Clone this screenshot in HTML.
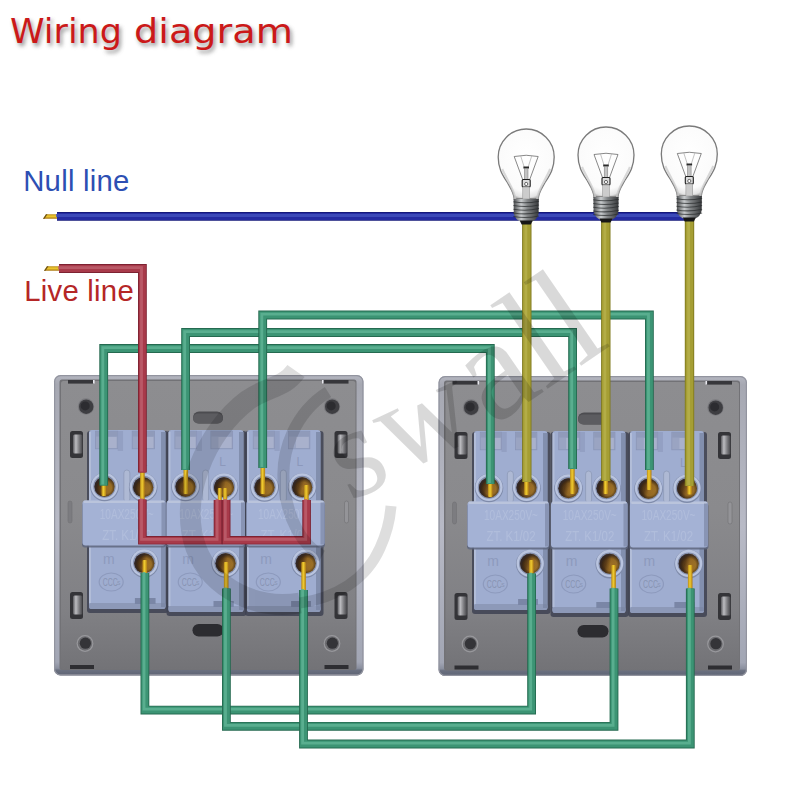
<!DOCTYPE html>
<html lang="en"><head><meta charset="utf-8"><title>Wiring diagram</title>
<style>html,body{margin:0;padding:0;background:#fff;}body{width:800px;height:800px;overflow:hidden;}svg{display:block;}</style>
</head><body>
<svg width="800" height="800" viewBox="0 0 800 800">
<defs>
<filter id="tsh" x="-10%" y="-30%" width="120%" height="180%"><feGaussianBlur stdDeviation="2.1"/></filter>
<filter id="b1" filterUnits="userSpaceOnUse" x="0" y="0" width="800" height="800"><feGaussianBlur stdDeviation="0.6"/></filter>
<linearGradient id="plateG" x1="0" y1="0" x2="0" y2="1"><stop offset="0" stop-color="#8d8d90"/><stop offset="0.45" stop-color="#8a8a8d"/><stop offset="0.8" stop-color="#808084"/><stop offset="1" stop-color="#737377"/></linearGradient>
<linearGradient id="rimG" x1="0" y1="0" x2="0" y2="1"><stop offset="0" stop-color="#b4b6c0"/><stop offset="0.03" stop-color="#a6a8b2"/><stop offset="0.5" stop-color="#b8bac6"/><stop offset="0.955" stop-color="#a2a6b4"/><stop offset="0.976" stop-color="#8a8f9e"/><stop offset="0.982" stop-color="#6a7080"/><stop offset="1" stop-color="#5e6474"/></linearGradient>
<linearGradient id="clipG" x1="0" y1="0" x2="1" y2="0"><stop offset="0" stop-color="#5c5c60"/><stop offset="0.3" stop-color="#bcbcc0"/><stop offset="0.65" stop-color="#7c7c80"/><stop offset="1" stop-color="#444448"/></linearGradient>
<radialGradient id="holeG" cx="0.55" cy="0.55" r="0.5"><stop offset="0" stop-color="#2a1c10" stop-opacity="0"/><stop offset="0.6" stop-color="#2a1c10" stop-opacity="0.1"/><stop offset="0.85" stop-color="#2a1c14" stop-opacity="0.55"/><stop offset="1" stop-color="#2c2428" stop-opacity="0.85"/></radialGradient>
<linearGradient id="holeL" x1="0" y1="0" x2="1" y2="0.25"><stop offset="0" stop-color="#3c2812"/><stop offset="0.4" stop-color="#5e3e18"/><stop offset="0.62" stop-color="#9a6c24"/><stop offset="1" stop-color="#a87a2a"/></linearGradient>
<linearGradient id="baseG" x1="0" y1="0" x2="1" y2="0"><stop offset="0" stop-color="#4e5052"/><stop offset="0.3" stop-color="#c8cbcd"/><stop offset="0.55" stop-color="#828587"/><stop offset="1" stop-color="#36383a"/></linearGradient>
<radialGradient id="glassG" cx="0.5" cy="0.42" r="0.6"><stop offset="0" stop-color="#ffffff"/><stop offset="0.78" stop-color="#fbfbfb"/><stop offset="0.93" stop-color="#e4e4e4"/><stop offset="1" stop-color="#9c9c9c"/></radialGradient>
<linearGradient id="cuV" x1="0" y1="0" x2="1" y2="0"><stop offset="0" stop-color="#b88a18"/><stop offset="0.45" stop-color="#f0cc30"/><stop offset="1" stop-color="#b07c14"/></linearGradient>
<linearGradient id="cuH" x1="0" y1="0" x2="0" y2="1"><stop offset="0" stop-color="#b88a18"/><stop offset="0.45" stop-color="#f0cc30"/><stop offset="1" stop-color="#a87412"/></linearGradient>
</defs>
<rect x="0" y="0" width="800" height="800" fill="#ffffff"/>
<g font-family="'DejaVu Sans', 'Liberation Sans', sans-serif" font-size="34.6">
<g fill="#7a7a7a" opacity="0.8" filter="url(#tsh)">
<text x="12" y="46.2" textLength="112" lengthAdjust="spacingAndGlyphs">Wiring</text>
<text x="136" y="46.2" textLength="159" lengthAdjust="spacingAndGlyphs">diagram</text>
</g>
<g fill="#cb1919">
<text x="10" y="43.2" textLength="112" lengthAdjust="spacingAndGlyphs">Wiring</text>
<text x="134" y="43.2" textLength="159" lengthAdjust="spacingAndGlyphs">diagram</text>
</g>
</g>
<g font-family="'Liberation Sans', sans-serif" font-size="29.3">
<text x="23.2" y="191.2" fill="#2d4fb3" letter-spacing="0.25">Null line</text>
<text x="24.2" y="301" fill="#b52626" letter-spacing="0.25">Live line</text>
</g>
<g>
<rect x="54" y="375" width="309.5" height="300.5" rx="6.5" fill="url(#rimG)"/>
<rect x="54.6" y="375.6" width="308.3" height="299.3" rx="6" fill="none" stroke="#92949f" stroke-width="1.2"/>
<rect x="59.5" y="379.5" width="297.0" height="290.5" rx="2.5" fill="#727276"/>
<rect x="61" y="381" width="294.5" height="288.0" rx="2.5" fill="url(#plateG)"/>
<rect x="68" y="380" width="26" height="3.6" fill="#37373b"/>
<rect x="322.5" y="380" width="26" height="3.6" fill="#37373b"/>
<rect x="70" y="665.0" width="24" height="4" fill="#2e2e32"/>
<rect x="324.5" y="665.0" width="24" height="4" fill="#2e2e32"/>
<rect x="93" y="380" width="1.6" height="3.6" fill="#e8e8ee"/>
<rect x="322.0" y="380" width="1.6" height="3.6" fill="#e8e8ee"/>
<circle cx="86" cy="406.5" r="8.2" fill="#7a7a7e"/>
<circle cx="86.2" cy="406.7" r="7.2" fill="#3e3e42"/>
<circle cx="85.2" cy="405.9" r="4.5" fill="#2c2c30"/>
<circle cx="332.0" cy="406.5" r="8.2" fill="#7a7a7e"/>
<circle cx="332.2" cy="406.7" r="7.2" fill="#3e3e42"/>
<circle cx="331.2" cy="405.9" r="4.5" fill="#2c2c30"/>
<circle cx="85" cy="643.5" r="8.4" fill="#98989c"/>
<circle cx="85" cy="643.5" r="7.2" fill="#6c6c70"/>
<circle cx="85.4" cy="643.2" r="5.6" fill="#343438"/>
<circle cx="332.0" cy="643.5" r="8.4" fill="#98989c"/>
<circle cx="332.0" cy="643.5" r="7.2" fill="#6c6c70"/>
<circle cx="332.4" cy="643.2" r="5.6" fill="#343438"/>
<rect x="70" y="431" width="13" height="27" rx="2.5" fill="#343438"/>
<rect x="73" y="434.5" width="9.5" height="19" rx="1.5" fill="url(#clipG)"/>
<rect x="334.5" y="431" width="13" height="27" rx="2.5" fill="#343438"/>
<rect x="337.5" y="434.5" width="9.5" height="19" rx="1.5" fill="url(#clipG)"/>
<rect x="70" y="592" width="13" height="27" rx="2.5" fill="#343438"/>
<rect x="73" y="595.5" width="9.5" height="19" rx="1.5" fill="url(#clipG)"/>
<rect x="334.5" y="592" width="13" height="27" rx="2.5" fill="#343438"/>
<rect x="337.5" y="595.5" width="9.5" height="19" rx="1.5" fill="url(#clipG)"/>
<rect x="344.5" y="501" width="4" height="22" rx="2" fill="#949498" stroke="#707074" stroke-width="0.6"/>
<rect x="68" y="501" width="4" height="22" rx="2" fill="#7c7c80" stroke="#707074" stroke-width="0.6"/>
<rect x="193" y="411.5" width="30" height="12" rx="6" fill="#4c4c50"/>
<rect x="193" y="413.5" width="30" height="10" rx="5" fill="#5c5c60"/>
<rect x="192.5" y="624" width="31" height="12.5" rx="6.2" fill="#2c2c30"/>
<rect x="87" y="431" width="81.5" height="182" rx="3" fill="#3e4252" opacity="0.85"/>
<rect x="89" y="430" width="76.5" height="179" rx="3" fill="#9fadd0"/>
<rect x="89" y="603" width="76.5" height="6" rx="2" fill="#8d99b8"/>
<rect x="161.0" y="432" width="4.5" height="175" fill="#76819f" opacity="0.7"/>
<rect x="89" y="432" width="2" height="171" fill="#b6c1da" opacity="0.8"/>
<rect x="95.5025" y="431.2" width="22.185" height="17.6" fill="#9aa4c2" stroke="#8b96b7" stroke-width="0.8"/>
<rect x="96.0025" y="431.5" width="21.185" height="5" fill="#8d98b8" opacity="0.8"/>
<rect x="103.26724999999999" y="437" width="13.310999999999998" height="11" fill="#adb6cf" opacity="0.75"/>
<rect x="132.2225" y="431.2" width="22.185" height="17.6" fill="#9aa4c2" stroke="#8b96b7" stroke-width="0.8"/>
<rect x="132.7225" y="431.5" width="21.185" height="5" fill="#8d98b8" opacity="0.8"/>
<rect x="139.98725" y="437" width="13.310999999999998" height="11" fill="#adb6cf" opacity="0.75"/>
<rect x="117.6875" y="431" width="5.355" height="20" fill="#8e9abd" opacity="0.7"/>
<text x="144.07999999999998" y="465.5" font-family="'Liberation Sans', sans-serif" font-size="12" fill="#8c98bb" text-anchor="middle">L</text>
<rect x="123.85" y="470" width="6" height="32" rx="3" fill="#aeb9d4" stroke="#8a96b5" stroke-width="0.7"/>
<rect x="82.0" y="502.5" width="84.0" height="45.0" rx="3" fill="#5e667e" opacity="0.85"/>
<rect x="82.5" y="500.5" width="83.0" height="45.0" rx="3" fill="#a4b2d5"/>
<rect x="83.5" y="500.5" width="81.0" height="2.4" rx="1.2" fill="#bac4dc"/>
<rect x="161.5" y="502.5" width="4" height="42.0" fill="#76819f" opacity="0.6"/>
<g font-family="'Liberation Sans', sans-serif" font-size="14.5" fill="#c0cbe4" text-anchor="middle" opacity="0.45">
<text x="126.75" y="519.0" textLength="54" lengthAdjust="spacingAndGlyphs">10AX250V~</text>
<text x="126.75" y="539.5" textLength="49" lengthAdjust="spacingAndGlyphs">ZT. K1/02</text>
</g>
<text x="108.89" y="564.0" font-family="'Liberation Sans', sans-serif" font-size="14" fill="#8d9abd" text-anchor="middle">m</text>
<ellipse cx="111.185" cy="582.0" rx="12" ry="9" fill="none" stroke="#8d9abd" stroke-width="1.2"/>
<text x="110.185" y="585.5" font-family="'Liberation Sans', sans-serif" font-size="10" fill="#8793b2" text-anchor="middle" textLength="15" lengthAdjust="spacingAndGlyphs">CCC</text>
<text x="118.685" y="584.5" font-family="'Liberation Sans', sans-serif" font-size="5" fill="#8793b2" text-anchor="middle">S</text>
<rect x="134.9" y="598" width="20.655" height="6" fill="#7a86a6"/>
<rect x="166.5" y="431" width="80.0" height="185" rx="3" fill="#3e4252" opacity="0.85"/>
<rect x="168.5" y="430" width="75.0" height="182" rx="3" fill="#9fadd0"/>
<rect x="168.5" y="606" width="75.0" height="6" rx="2" fill="#8d99b8"/>
<rect x="239.0" y="432" width="4.5" height="178" fill="#76819f" opacity="0.7"/>
<rect x="168.5" y="432" width="2" height="174" fill="#b6c1da" opacity="0.8"/>
<rect x="174.875" y="431.2" width="21.75" height="17.6" fill="#9aa4c2" stroke="#8b96b7" stroke-width="0.8"/>
<rect x="175.375" y="431.5" width="20.75" height="5" fill="#8d98b8" opacity="0.8"/>
<rect x="182.4875" y="437" width="13.049999999999999" height="11" fill="#adb6cf" opacity="0.75"/>
<rect x="210.875" y="431.2" width="21.75" height="17.6" fill="#9aa4c2" stroke="#8b96b7" stroke-width="0.8"/>
<rect x="211.375" y="431.5" width="20.75" height="5" fill="#8d98b8" opacity="0.8"/>
<rect x="218.4875" y="437" width="13.049999999999999" height="11" fill="#adb6cf" opacity="0.75"/>
<rect x="196.625" y="431" width="5.250000000000001" height="20" fill="#8e9abd" opacity="0.7"/>
<text x="222.5" y="465.5" font-family="'Liberation Sans', sans-serif" font-size="12" fill="#8c98bb" text-anchor="middle">L</text>
<rect x="202.6" y="470" width="6" height="32" rx="3" fill="#aeb9d4" stroke="#8a96b5" stroke-width="0.7"/>
<rect x="166.0" y="502.5" width="79.5" height="45.0" rx="3" fill="#5e667e" opacity="0.85"/>
<rect x="166.5" y="500.5" width="78.5" height="45.0" rx="3" fill="#a4b2d5"/>
<rect x="167.5" y="500.5" width="76.5" height="2.4" rx="1.2" fill="#bac4dc"/>
<rect x="241" y="502.5" width="4" height="42.0" fill="#76819f" opacity="0.6"/>
<g font-family="'Liberation Sans', sans-serif" font-size="14.5" fill="#c0cbe4" text-anchor="middle" opacity="0.45">
<text x="206.25" y="519.0" textLength="54" lengthAdjust="spacingAndGlyphs">10AX250V~</text>
<text x="206.25" y="539.5" textLength="49" lengthAdjust="spacingAndGlyphs">ZT. K1/02</text>
</g>
<text x="188.0" y="564.0" font-family="'Liberation Sans', sans-serif" font-size="14" fill="#8d9abd" text-anchor="middle">m</text>
<ellipse cx="190.25" cy="582.0" rx="12" ry="9" fill="none" stroke="#8d9abd" stroke-width="1.2"/>
<text x="189.25" y="585.5" font-family="'Liberation Sans', sans-serif" font-size="10" fill="#8793b2" text-anchor="middle" textLength="15" lengthAdjust="spacingAndGlyphs">CCC</text>
<text x="197.75" y="584.5" font-family="'Liberation Sans', sans-serif" font-size="5" fill="#8793b2" text-anchor="middle">S</text>
<rect x="213.5" y="601" width="20.25" height="6" fill="#7a86a6"/>
<rect x="245" y="431" width="78.5" height="185" rx="3" fill="#3e4252" opacity="0.85"/>
<rect x="247" y="430" width="73.5" height="182" rx="3" fill="#9fadd0"/>
<rect x="247" y="606" width="73.5" height="6" rx="2" fill="#8d99b8"/>
<rect x="316.0" y="432" width="4.5" height="178" fill="#76819f" opacity="0.7"/>
<rect x="247" y="432" width="2" height="174" fill="#b6c1da" opacity="0.8"/>
<rect x="253.2475" y="431.2" width="21.314999999999998" height="17.6" fill="#9aa4c2" stroke="#8b96b7" stroke-width="0.8"/>
<rect x="253.7475" y="431.5" width="20.314999999999998" height="5" fill="#8d98b8" opacity="0.8"/>
<rect x="260.70775" y="437" width="12.788999999999998" height="11" fill="#adb6cf" opacity="0.75"/>
<rect x="288.5275" y="431.2" width="21.314999999999998" height="17.6" fill="#9aa4c2" stroke="#8b96b7" stroke-width="0.8"/>
<rect x="289.0275" y="431.5" width="20.314999999999998" height="5" fill="#8d98b8" opacity="0.8"/>
<rect x="295.98774999999995" y="437" width="12.788999999999998" height="11" fill="#adb6cf" opacity="0.75"/>
<rect x="274.5625" y="431" width="5.1450000000000005" height="20" fill="#8e9abd" opacity="0.7"/>
<text x="299.92" y="465.5" font-family="'Liberation Sans', sans-serif" font-size="12" fill="#8c98bb" text-anchor="middle">L</text>
<rect x="280.35" y="470" width="6" height="32" rx="3" fill="#aeb9d4" stroke="#8a96b5" stroke-width="0.7"/>
<rect x="246.0" y="502.5" width="79.0" height="45.0" rx="3" fill="#5e667e" opacity="0.85"/>
<rect x="246.5" y="500.5" width="78.0" height="45.0" rx="3" fill="#a4b2d5"/>
<rect x="247.5" y="500.5" width="76.0" height="2.4" rx="1.2" fill="#bac4dc"/>
<rect x="320.5" y="502.5" width="4" height="42.0" fill="#76819f" opacity="0.6"/>
<g font-family="'Liberation Sans', sans-serif" font-size="14.5" fill="#c0cbe4" text-anchor="middle" opacity="0.45">
<text x="285.0" y="519.0" textLength="54" lengthAdjust="spacingAndGlyphs">10AX250V~</text>
<text x="285.0" y="539.5" textLength="49" lengthAdjust="spacingAndGlyphs">ZT. K1/02</text>
</g>
<text x="266.11" y="564.0" font-family="'Liberation Sans', sans-serif" font-size="14" fill="#8d9abd" text-anchor="middle">m</text>
<ellipse cx="268.315" cy="582.0" rx="12" ry="9" fill="none" stroke="#8d9abd" stroke-width="1.2"/>
<text x="267.315" y="585.5" font-family="'Liberation Sans', sans-serif" font-size="10" fill="#8793b2" text-anchor="middle" textLength="15" lengthAdjust="spacingAndGlyphs">CCC</text>
<text x="275.815" y="584.5" font-family="'Liberation Sans', sans-serif" font-size="5" fill="#8793b2" text-anchor="middle">S</text>
<rect x="291.1" y="601" width="19.845000000000002" height="6" fill="#7a86a6"/>
<circle cx="104.5" cy="487.0" r="14.3" fill="#7f8baa"/>
<circle cx="104.5" cy="486.3" r="13.6" fill="#b9c4df"/>
<circle cx="104.5" cy="486.5" r="11.2" fill="#828dab"/>
<circle cx="104.5" cy="486.7" r="10" fill="url(#holeL)"/>
<circle cx="104.5" cy="486.7" r="10" fill="url(#holeG)"/>
<circle cx="143.2" cy="487.5" r="14.3" fill="#7f8baa"/>
<circle cx="143.2" cy="486.8" r="13.6" fill="#b9c4df"/>
<circle cx="143.2" cy="487" r="11.2" fill="#828dab"/>
<circle cx="143.2" cy="487.2" r="10" fill="url(#holeL)"/>
<circle cx="143.2" cy="487.2" r="10" fill="url(#holeG)"/>
<circle cx="185.5" cy="487.0" r="14.3" fill="#7f8baa"/>
<circle cx="185.5" cy="486.3" r="13.6" fill="#b9c4df"/>
<circle cx="185.5" cy="486.5" r="11.2" fill="#828dab"/>
<circle cx="185.5" cy="486.7" r="10" fill="url(#holeL)"/>
<circle cx="185.5" cy="486.7" r="10" fill="url(#holeG)"/>
<circle cx="224" cy="487.5" r="14.3" fill="#7f8baa"/>
<circle cx="224" cy="486.8" r="13.6" fill="#b9c4df"/>
<circle cx="224" cy="487" r="11.2" fill="#828dab"/>
<circle cx="224" cy="487.2" r="10" fill="url(#holeL)"/>
<circle cx="224" cy="487.2" r="10" fill="url(#holeG)"/>
<circle cx="264.5" cy="487.5" r="14.3" fill="#7f8baa"/>
<circle cx="264.5" cy="486.8" r="13.6" fill="#b9c4df"/>
<circle cx="264.5" cy="487" r="11.2" fill="#828dab"/>
<circle cx="264.5" cy="487.2" r="10" fill="url(#holeL)"/>
<circle cx="264.5" cy="487.2" r="10" fill="url(#holeG)"/>
<circle cx="302.2" cy="487.5" r="14.3" fill="#7f8baa"/>
<circle cx="302.2" cy="486.8" r="13.6" fill="#b9c4df"/>
<circle cx="302.2" cy="487" r="11.2" fill="#828dab"/>
<circle cx="302.2" cy="487.2" r="10" fill="url(#holeL)"/>
<circle cx="302.2" cy="487.2" r="10" fill="url(#holeG)"/>
<circle cx="144.3" cy="563.5" r="14.3" fill="#7f8baa"/>
<circle cx="144.3" cy="562.8" r="13.6" fill="#b9c4df"/>
<circle cx="144.3" cy="563" r="11.2" fill="#828dab"/>
<circle cx="144.3" cy="563.2" r="10" fill="url(#holeL)"/>
<circle cx="144.3" cy="563.2" r="10" fill="url(#holeG)"/>
<circle cx="225.6" cy="563.5" r="14.3" fill="#7f8baa"/>
<circle cx="225.6" cy="562.8" r="13.6" fill="#b9c4df"/>
<circle cx="225.6" cy="563" r="11.2" fill="#828dab"/>
<circle cx="225.6" cy="563.2" r="10" fill="url(#holeL)"/>
<circle cx="225.6" cy="563.2" r="10" fill="url(#holeG)"/>
<circle cx="305.7" cy="563.5" r="14.3" fill="#7f8baa"/>
<circle cx="305.7" cy="562.8" r="13.6" fill="#b9c4df"/>
<circle cx="305.7" cy="563" r="11.2" fill="#828dab"/>
<circle cx="305.7" cy="563.2" r="10" fill="url(#holeL)"/>
<circle cx="305.7" cy="563.2" r="10" fill="url(#holeG)"/>
</g>
<g>
<rect x="438.5" y="376" width="308.5" height="300" rx="6.5" fill="url(#rimG)"/>
<rect x="439.1" y="376.6" width="307.3" height="298.8" rx="6" fill="none" stroke="#92949f" stroke-width="1.2"/>
<rect x="444.0" y="380.5" width="296.0" height="290" rx="2.5" fill="#727276"/>
<rect x="445.5" y="382" width="293.5" height="287.5" rx="2.5" fill="url(#plateG)"/>
<rect x="452.5" y="381" width="26" height="3.6" fill="#37373b"/>
<rect x="706" y="381" width="26" height="3.6" fill="#37373b"/>
<rect x="454.5" y="665.5" width="24" height="4" fill="#2e2e32"/>
<rect x="708" y="665.5" width="24" height="4" fill="#2e2e32"/>
<rect x="477.5" y="381" width="1.6" height="3.6" fill="#e8e8ee"/>
<rect x="705.5" y="381" width="1.6" height="3.6" fill="#e8e8ee"/>
<circle cx="471.0" cy="407.5" r="8.2" fill="#7a7a7e"/>
<circle cx="471.2" cy="407.7" r="7.2" fill="#3e3e42"/>
<circle cx="470.2" cy="406.9" r="4.5" fill="#2c2c30"/>
<circle cx="715.5" cy="407.5" r="8.2" fill="#7a7a7e"/>
<circle cx="715.7" cy="407.7" r="7.2" fill="#3e3e42"/>
<circle cx="714.7" cy="406.9" r="4.5" fill="#2c2c30"/>
<circle cx="470.0" cy="644" r="8.4" fill="#98989c"/>
<circle cx="470.0" cy="644" r="7.2" fill="#6c6c70"/>
<circle cx="470.4" cy="643.7" r="5.6" fill="#343438"/>
<circle cx="715.5" cy="644" r="8.4" fill="#98989c"/>
<circle cx="715.5" cy="644" r="7.2" fill="#6c6c70"/>
<circle cx="715.9" cy="643.7" r="5.6" fill="#343438"/>
<rect x="454.5" y="432" width="13" height="27" rx="2.5" fill="#343438"/>
<rect x="457.5" y="435.5" width="9.5" height="19" rx="1.5" fill="url(#clipG)"/>
<rect x="718" y="432" width="13" height="27" rx="2.5" fill="#343438"/>
<rect x="721" y="435.5" width="9.5" height="19" rx="1.5" fill="url(#clipG)"/>
<rect x="454.5" y="593" width="13" height="27" rx="2.5" fill="#343438"/>
<rect x="457.5" y="596.5" width="9.5" height="19" rx="1.5" fill="url(#clipG)"/>
<rect x="718" y="593" width="13" height="27" rx="2.5" fill="#343438"/>
<rect x="721" y="596.5" width="9.5" height="19" rx="1.5" fill="url(#clipG)"/>
<rect x="728" y="502" width="4" height="22" rx="2" fill="#949498" stroke="#707074" stroke-width="0.6"/>
<rect x="452.5" y="502" width="4" height="22" rx="2" fill="#7c7c80" stroke="#707074" stroke-width="0.6"/>
<rect x="578" y="412.5" width="30" height="12" rx="6" fill="#4c4c50"/>
<rect x="578" y="414.5" width="30" height="10" rx="5" fill="#5c5c60"/>
<rect x="577.5" y="625" width="31" height="12.5" rx="6.2" fill="#2c2c30"/>
<rect x="472" y="432" width="78.5" height="182" rx="3" fill="#3e4252" opacity="0.85"/>
<rect x="474" y="431" width="73.5" height="179" rx="3" fill="#9fadd0"/>
<rect x="474" y="604" width="73.5" height="6" rx="2" fill="#8d99b8"/>
<rect x="543.0" y="433" width="4.5" height="175" fill="#76819f" opacity="0.7"/>
<rect x="474" y="433" width="2" height="171" fill="#b6c1da" opacity="0.8"/>
<rect x="480.2475" y="432.2" width="21.314999999999998" height="17.6" fill="#9aa4c2" stroke="#8b96b7" stroke-width="0.8"/>
<rect x="480.7475" y="432.5" width="20.314999999999998" height="5" fill="#8d98b8" opacity="0.8"/>
<rect x="487.70775" y="438" width="12.788999999999998" height="11" fill="#adb6cf" opacity="0.75"/>
<rect x="515.5275" y="432.2" width="21.314999999999998" height="17.6" fill="#9aa4c2" stroke="#8b96b7" stroke-width="0.8"/>
<rect x="516.0275" y="432.5" width="20.314999999999998" height="5" fill="#8d98b8" opacity="0.8"/>
<rect x="522.98775" y="438" width="12.788999999999998" height="11" fill="#adb6cf" opacity="0.75"/>
<rect x="501.5625" y="432" width="5.1450000000000005" height="20" fill="#8e9abd" opacity="0.7"/>
<text x="526.92" y="466.5" font-family="'Liberation Sans', sans-serif" font-size="12" fill="#8c98bb" text-anchor="middle">L</text>
<rect x="507.35" y="471" width="6" height="32" rx="3" fill="#aeb9d4" stroke="#8a96b5" stroke-width="0.7"/>
<rect x="467.0" y="503.5" width="82.5" height="46.0" rx="3" fill="#5e667e" opacity="0.85"/>
<rect x="467.5" y="501.5" width="81.5" height="46.0" rx="3" fill="#a4b2d5"/>
<rect x="468.5" y="501.5" width="79.5" height="2.4" rx="1.2" fill="#bac4dc"/>
<rect x="545" y="503.5" width="4" height="43.0" fill="#76819f" opacity="0.6"/>
<g font-family="'Liberation Sans', sans-serif" font-size="14.5" fill="#c0cbe4" text-anchor="middle" opacity="0.45">
<text x="511.0" y="520.0" textLength="54" lengthAdjust="spacingAndGlyphs">10AX250V~</text>
<text x="511.0" y="540.5" textLength="49" lengthAdjust="spacingAndGlyphs">ZT. K1/02</text>
</g>
<text x="493.11" y="566.0" font-family="'Liberation Sans', sans-serif" font-size="14" fill="#8d9abd" text-anchor="middle">m</text>
<ellipse cx="495.315" cy="584.0" rx="12" ry="9" fill="none" stroke="#8d9abd" stroke-width="1.2"/>
<text x="494.315" y="587.5" font-family="'Liberation Sans', sans-serif" font-size="10" fill="#8793b2" text-anchor="middle" textLength="15" lengthAdjust="spacingAndGlyphs">CCC</text>
<text x="502.815" y="586.5" font-family="'Liberation Sans', sans-serif" font-size="5" fill="#8793b2" text-anchor="middle">S</text>
<rect x="518.1" y="599" width="19.845000000000002" height="6" fill="#7a86a6"/>
<rect x="550.5" y="432" width="78.0" height="185" rx="3" fill="#3e4252" opacity="0.85"/>
<rect x="552.5" y="431" width="73.0" height="182" rx="3" fill="#9fadd0"/>
<rect x="552.5" y="607" width="73.0" height="6" rx="2" fill="#8d99b8"/>
<rect x="621.0" y="433" width="4.5" height="178" fill="#76819f" opacity="0.7"/>
<rect x="552.5" y="433" width="2" height="174" fill="#b6c1da" opacity="0.8"/>
<rect x="558.705" y="432.2" width="21.169999999999998" height="17.6" fill="#9aa4c2" stroke="#8b96b7" stroke-width="0.8"/>
<rect x="559.205" y="432.5" width="20.169999999999998" height="5" fill="#8d98b8" opacity="0.8"/>
<rect x="566.1145" y="438" width="12.701999999999998" height="11" fill="#adb6cf" opacity="0.75"/>
<rect x="593.745" y="432.2" width="21.169999999999998" height="17.6" fill="#9aa4c2" stroke="#8b96b7" stroke-width="0.8"/>
<rect x="594.245" y="432.5" width="20.169999999999998" height="5" fill="#8d98b8" opacity="0.8"/>
<rect x="601.1545" y="438" width="12.701999999999998" height="11" fill="#adb6cf" opacity="0.75"/>
<rect x="579.875" y="432" width="5.11" height="20" fill="#8e9abd" opacity="0.7"/>
<text x="605.06" y="466.5" font-family="'Liberation Sans', sans-serif" font-size="12" fill="#8c98bb" text-anchor="middle">L</text>
<rect x="585.6" y="471" width="6" height="32" rx="3" fill="#aeb9d4" stroke="#8a96b5" stroke-width="0.7"/>
<rect x="550.5" y="503.5" width="77.5" height="46.0" rx="3" fill="#5e667e" opacity="0.85"/>
<rect x="551" y="501.5" width="76.5" height="46.0" rx="3" fill="#a4b2d5"/>
<rect x="552" y="501.5" width="74.5" height="2.4" rx="1.2" fill="#bac4dc"/>
<rect x="623.5" y="503.5" width="4" height="43.0" fill="#76819f" opacity="0.6"/>
<g font-family="'Liberation Sans', sans-serif" font-size="14.5" fill="#c0cbe4" text-anchor="middle" opacity="0.45">
<text x="589.75" y="520.0" textLength="54" lengthAdjust="spacingAndGlyphs">10AX250V~</text>
<text x="589.75" y="540.5" textLength="49" lengthAdjust="spacingAndGlyphs">ZT. K1/02</text>
</g>
<text x="571.48" y="566.0" font-family="'Liberation Sans', sans-serif" font-size="14" fill="#8d9abd" text-anchor="middle">m</text>
<ellipse cx="573.67" cy="584.0" rx="12" ry="9" fill="none" stroke="#8d9abd" stroke-width="1.2"/>
<text x="572.67" y="587.5" font-family="'Liberation Sans', sans-serif" font-size="10" fill="#8793b2" text-anchor="middle" textLength="15" lengthAdjust="spacingAndGlyphs">CCC</text>
<text x="581.17" y="586.5" font-family="'Liberation Sans', sans-serif" font-size="5" fill="#8793b2" text-anchor="middle">S</text>
<rect x="596.3" y="602" width="19.71" height="6" fill="#7a86a6"/>
<rect x="628" y="432" width="79" height="185" rx="3" fill="#3e4252" opacity="0.85"/>
<rect x="630" y="431" width="74" height="182" rx="3" fill="#9fadd0"/>
<rect x="630" y="607" width="74" height="6" rx="2" fill="#8d99b8"/>
<rect x="699.5" y="433" width="4.5" height="178" fill="#76819f" opacity="0.7"/>
<rect x="630" y="433" width="2" height="174" fill="#b6c1da" opacity="0.8"/>
<rect x="636.29" y="432.2" width="21.459999999999997" height="17.6" fill="#9aa4c2" stroke="#8b96b7" stroke-width="0.8"/>
<rect x="636.79" y="432.5" width="20.459999999999997" height="5" fill="#8d98b8" opacity="0.8"/>
<rect x="643.8009999999999" y="438" width="12.875999999999998" height="11" fill="#adb6cf" opacity="0.75"/>
<rect x="671.81" y="432.2" width="21.459999999999997" height="17.6" fill="#9aa4c2" stroke="#8b96b7" stroke-width="0.8"/>
<rect x="672.31" y="432.5" width="20.459999999999997" height="5" fill="#8d98b8" opacity="0.8"/>
<rect x="679.3209999999999" y="438" width="12.875999999999998" height="11" fill="#adb6cf" opacity="0.75"/>
<rect x="657.75" y="432" width="5.180000000000001" height="20" fill="#8e9abd" opacity="0.7"/>
<text x="683.28" y="466.5" font-family="'Liberation Sans', sans-serif" font-size="12" fill="#8c98bb" text-anchor="middle">L</text>
<rect x="663.6" y="471" width="6" height="32" rx="3" fill="#aeb9d4" stroke="#8a96b5" stroke-width="0.7"/>
<rect x="629.5" y="503.5" width="79" height="46.0" rx="3" fill="#5e667e" opacity="0.85"/>
<rect x="630" y="501.5" width="78" height="46.0" rx="3" fill="#a4b2d5"/>
<rect x="631" y="501.5" width="76" height="2.4" rx="1.2" fill="#bac4dc"/>
<rect x="704" y="503.5" width="4" height="43.0" fill="#76819f" opacity="0.6"/>
<g font-family="'Liberation Sans', sans-serif" font-size="14.5" fill="#c0cbe4" text-anchor="middle" opacity="0.45">
<text x="668.5" y="520.0" textLength="54" lengthAdjust="spacingAndGlyphs">10AX250V~</text>
<text x="668.5" y="540.5" textLength="49" lengthAdjust="spacingAndGlyphs">ZT. K1/02</text>
</g>
<text x="649.24" y="566.0" font-family="'Liberation Sans', sans-serif" font-size="14" fill="#8d9abd" text-anchor="middle">m</text>
<ellipse cx="651.46" cy="584.0" rx="12" ry="9" fill="none" stroke="#8d9abd" stroke-width="1.2"/>
<text x="650.46" y="587.5" font-family="'Liberation Sans', sans-serif" font-size="10" fill="#8793b2" text-anchor="middle" textLength="15" lengthAdjust="spacingAndGlyphs">CCC</text>
<text x="658.96" y="586.5" font-family="'Liberation Sans', sans-serif" font-size="5" fill="#8793b2" text-anchor="middle">S</text>
<rect x="674.4" y="602" width="19.98" height="6" fill="#7a86a6"/>
<circle cx="489" cy="488.0" r="14.3" fill="#7f8baa"/>
<circle cx="489" cy="487.3" r="13.6" fill="#b9c4df"/>
<circle cx="489" cy="487.5" r="11.2" fill="#828dab"/>
<circle cx="489" cy="487.7" r="10" fill="url(#holeL)"/>
<circle cx="489" cy="487.7" r="10" fill="url(#holeG)"/>
<circle cx="526.5" cy="488.0" r="14.3" fill="#7f8baa"/>
<circle cx="526.5" cy="487.3" r="13.6" fill="#b9c4df"/>
<circle cx="526.5" cy="487.5" r="11.2" fill="#828dab"/>
<circle cx="526.5" cy="487.7" r="10" fill="url(#holeL)"/>
<circle cx="526.5" cy="487.7" r="10" fill="url(#holeG)"/>
<circle cx="568.5" cy="488.5" r="14.3" fill="#7f8baa"/>
<circle cx="568.5" cy="487.8" r="13.6" fill="#b9c4df"/>
<circle cx="568.5" cy="488" r="11.2" fill="#828dab"/>
<circle cx="568.5" cy="488.2" r="10" fill="url(#holeL)"/>
<circle cx="568.5" cy="488.2" r="10" fill="url(#holeG)"/>
<circle cx="606.5" cy="488.5" r="14.3" fill="#7f8baa"/>
<circle cx="606.5" cy="487.8" r="13.6" fill="#b9c4df"/>
<circle cx="606.5" cy="488" r="11.2" fill="#828dab"/>
<circle cx="606.5" cy="488.2" r="10" fill="url(#holeL)"/>
<circle cx="606.5" cy="488.2" r="10" fill="url(#holeG)"/>
<circle cx="648.5" cy="489.0" r="14.3" fill="#7f8baa"/>
<circle cx="648.5" cy="488.3" r="13.6" fill="#b9c4df"/>
<circle cx="648.5" cy="488.5" r="11.2" fill="#828dab"/>
<circle cx="648.5" cy="488.7" r="10" fill="url(#holeL)"/>
<circle cx="648.5" cy="488.7" r="10" fill="url(#holeG)"/>
<circle cx="687" cy="488.7" r="14.3" fill="#7f8baa"/>
<circle cx="687" cy="488.0" r="13.6" fill="#b9c4df"/>
<circle cx="687" cy="488.2" r="11.2" fill="#828dab"/>
<circle cx="687" cy="488.4" r="10" fill="url(#holeL)"/>
<circle cx="687" cy="488.4" r="10" fill="url(#holeG)"/>
<circle cx="530.2" cy="564.1" r="14.3" fill="#7f8baa"/>
<circle cx="530.2" cy="563.4" r="13.6" fill="#b9c4df"/>
<circle cx="530.2" cy="563.6" r="11.2" fill="#828dab"/>
<circle cx="530.2" cy="563.8000000000001" r="10" fill="url(#holeL)"/>
<circle cx="530.2" cy="563.8000000000001" r="10" fill="url(#holeG)"/>
<circle cx="609.7" cy="564.1" r="14.3" fill="#7f8baa"/>
<circle cx="609.7" cy="563.4" r="13.6" fill="#b9c4df"/>
<circle cx="609.7" cy="563.6" r="11.2" fill="#828dab"/>
<circle cx="609.7" cy="563.8000000000001" r="10" fill="url(#holeL)"/>
<circle cx="609.7" cy="563.8000000000001" r="10" fill="url(#holeG)"/>
<circle cx="688.7" cy="564.1" r="14.3" fill="#7f8baa"/>
<circle cx="688.7" cy="563.4" r="13.6" fill="#b9c4df"/>
<circle cx="688.7" cy="563.6" r="11.2" fill="#828dab"/>
<circle cx="688.7" cy="563.8000000000001" r="10" fill="url(#holeL)"/>
<circle cx="688.7" cy="563.8000000000001" r="10" fill="url(#holeG)"/>
</g>
<rect x="101.5" y="484" width="4.6" height="12" rx="1" fill="url(#cuV)"/>
<rect x="140.1" y="471" width="4.6" height="29" rx="1" fill="url(#cuV)"/>
<rect x="183.5" y="468" width="4.6" height="26" rx="1" fill="url(#cuV)"/>
<rect x="217.8" y="488" width="4" height="13" rx="1" fill="url(#cuV)"/>
<rect x="223.2" y="488" width="4" height="13" rx="1" fill="url(#cuV)"/>
<rect x="260.5" y="467" width="4.6" height="27" rx="1" fill="url(#cuV)"/>
<rect x="304.09999999999997" y="485" width="4.6" height="16" rx="1" fill="url(#cuV)"/>
<rect x="142.5" y="560" width="4.6" height="14" rx="1" fill="url(#cuV)"/>
<rect x="223.89999999999998" y="562" width="4.6" height="28" rx="1" fill="url(#cuV)"/>
<rect x="301.3" y="562" width="4.6" height="29" rx="1" fill="url(#cuV)"/>
<rect x="488.0" y="484" width="4.6" height="13" rx="1" fill="url(#cuV)"/>
<rect x="524.2" y="480" width="4.6" height="15" rx="1" fill="url(#cuV)"/>
<rect x="570.1" y="468" width="4.6" height="26" rx="1" fill="url(#cuV)"/>
<rect x="603.5" y="480" width="4.6" height="14" rx="1" fill="url(#cuV)"/>
<rect x="646.9000000000001" y="469" width="4.6" height="21" rx="1" fill="url(#cuV)"/>
<rect x="687.3000000000001" y="485" width="4.6" height="9.5" rx="1" fill="url(#cuV)"/>
<rect x="529.1" y="560" width="4.6" height="15" rx="1" fill="url(#cuV)"/>
<rect x="611.3000000000001" y="565" width="4.6" height="25" rx="1" fill="url(#cuV)"/>
<rect x="687.9000000000001" y="565" width="4.6" height="25" rx="1" fill="url(#cuV)"/>
<path d="M46,214.2 L58,214.2 L58,218.8 L43,218.8 Z" fill="url(#cuH)"/>
<path d="M46,214.2 L47.5,214.2 L44.5,218.8 L43,218.8 Z" fill="#6a5018"/>
<path d="M47,266.2 L60,266.2 L60,270.8 L44,270.8 Z" fill="url(#cuH)"/>
<path d="M47,266.2 L48.5,266.2 L45.5,270.8 L44,270.8 Z" fill="#6a5018"/>
<path d="M57,216.4 L686,216.4" fill="none" stroke="#14187a" stroke-width="8.8" stroke-linejoin="miter" stroke-linecap="butt"/>
<path d="M57,216.4 L686,216.4" fill="none" stroke="#242ba2" stroke-width="7.000000000000001" stroke-linejoin="miter" stroke-linecap="butt"/>
<path d="M57,216.4 L686,216.4" fill="none" stroke="#4050bc" stroke-width="2.8" stroke-linejoin="miter" stroke-linecap="butt" opacity="0.85" transform="translate(-0.9,-0.9)" filter="url(#b1)"/>
<path d="M103.7,485.5 L103.7,348.5 L490.3,348.5 L490.3,484" fill="none" stroke="#256a50" stroke-width="8.8" stroke-linejoin="miter" stroke-linecap="butt"/>
<path d="M103.7,485.5 L103.7,348.5 L490.3,348.5 L490.3,484" fill="none" stroke="#3c9474" stroke-width="7.000000000000001" stroke-linejoin="miter" stroke-linecap="butt"/>
<path d="M103.7,485.5 L103.7,348.5 L490.3,348.5 L490.3,484" fill="none" stroke="#5fb394" stroke-width="2.8" stroke-linejoin="miter" stroke-linecap="butt" opacity="0.85" transform="translate(-0.9,-0.9)" filter="url(#b1)"/>
<path d="M185.6,470 L185.6,332.5 L572.6,332.5 L572.6,469" fill="none" stroke="#256a50" stroke-width="8.8" stroke-linejoin="miter" stroke-linecap="butt"/>
<path d="M185.6,470 L185.6,332.5 L572.6,332.5 L572.6,469" fill="none" stroke="#3c9474" stroke-width="7.000000000000001" stroke-linejoin="miter" stroke-linecap="butt"/>
<path d="M185.6,470 L185.6,332.5 L572.6,332.5 L572.6,469" fill="none" stroke="#5fb394" stroke-width="2.8" stroke-linejoin="miter" stroke-linecap="butt" opacity="0.85" transform="translate(-0.9,-0.9)" filter="url(#b1)"/>
<path d="M262.7,468 L262.7,315 L649.4,315 L649.4,470" fill="none" stroke="#256a50" stroke-width="8.8" stroke-linejoin="miter" stroke-linecap="butt"/>
<path d="M262.7,468 L262.7,315 L649.4,315 L649.4,470" fill="none" stroke="#3c9474" stroke-width="7.000000000000001" stroke-linejoin="miter" stroke-linecap="butt"/>
<path d="M262.7,468 L262.7,315 L649.4,315 L649.4,470" fill="none" stroke="#5fb394" stroke-width="2.8" stroke-linejoin="miter" stroke-linecap="butt" opacity="0.85" transform="translate(-0.9,-0.9)" filter="url(#b1)"/>
<path d="M526.8,222 L526.8,482" fill="none" stroke="#807a1e" stroke-width="9.4" stroke-linejoin="miter" stroke-linecap="butt"/>
<path d="M526.8,222 L526.8,482" fill="none" stroke="#a59e34" stroke-width="7.6000000000000005" stroke-linejoin="miter" stroke-linecap="butt"/>
<path d="M526.8,222 L526.8,482" fill="none" stroke="#b6b04c" stroke-width="2.8" stroke-linejoin="miter" stroke-linecap="butt" opacity="0.85" transform="translate(-0.9,-0.9)" filter="url(#b1)"/>
<path d="M605.8,221 L605.8,481" fill="none" stroke="#807a1e" stroke-width="9.4" stroke-linejoin="miter" stroke-linecap="butt"/>
<path d="M605.8,221 L605.8,481" fill="none" stroke="#a59e34" stroke-width="7.6000000000000005" stroke-linejoin="miter" stroke-linecap="butt"/>
<path d="M605.8,221 L605.8,481" fill="none" stroke="#b6b04c" stroke-width="2.8" stroke-linejoin="miter" stroke-linecap="butt" opacity="0.85" transform="translate(-0.9,-0.9)" filter="url(#b1)"/>
<path d="M689.5,220 L689.5,486" fill="none" stroke="#807a1e" stroke-width="9.4" stroke-linejoin="miter" stroke-linecap="butt"/>
<path d="M689.5,220 L689.5,486" fill="none" stroke="#a59e34" stroke-width="7.6000000000000005" stroke-linejoin="miter" stroke-linecap="butt"/>
<path d="M689.5,220 L689.5,486" fill="none" stroke="#b6b04c" stroke-width="2.8" stroke-linejoin="miter" stroke-linecap="butt" opacity="0.85" transform="translate(-0.9,-0.9)" filter="url(#b1)"/>
<path d="M59,268.5 L142.4,268.5 L142.4,472.5" fill="none" stroke="#7d2232" stroke-width="8.8" stroke-linejoin="miter" stroke-linecap="butt"/>
<path d="M59,268.5 L142.4,268.5 L142.4,472.5" fill="none" stroke="#a83a4a" stroke-width="7.000000000000001" stroke-linejoin="miter" stroke-linecap="butt"/>
<path d="M59,268.5 L142.4,268.5 L142.4,472.5" fill="none" stroke="#bd5f6d" stroke-width="2.8" stroke-linejoin="miter" stroke-linecap="butt" opacity="0.85" transform="translate(-0.9,-0.9)" filter="url(#b1)"/>
<path d="M142.4,499.5 L142.4,540.3 L218,540.3 L218,500" fill="none" stroke="#7d2232" stroke-width="8.6" stroke-linejoin="miter" stroke-linecap="butt"/>
<path d="M142.4,499.5 L142.4,540.3 L218,540.3 L218,500" fill="none" stroke="#a83a4a" stroke-width="6.8" stroke-linejoin="miter" stroke-linecap="butt"/>
<path d="M142.4,499.5 L142.4,540.3 L218,540.3 L218,500" fill="none" stroke="#bd5f6d" stroke-width="2.8" stroke-linejoin="miter" stroke-linecap="butt" opacity="0.85" transform="translate(-0.9,-0.9)" filter="url(#b1)"/>
<path d="M226.2,500 L226.2,540.3 L306.6,540.3 L306.6,500" fill="none" stroke="#7d2232" stroke-width="8.6" stroke-linejoin="miter" stroke-linecap="butt"/>
<path d="M226.2,500 L226.2,540.3 L306.6,540.3 L306.6,500" fill="none" stroke="#a83a4a" stroke-width="6.8" stroke-linejoin="miter" stroke-linecap="butt"/>
<path d="M226.2,500 L226.2,540.3 L306.6,540.3 L306.6,500" fill="none" stroke="#bd5f6d" stroke-width="2.8" stroke-linejoin="miter" stroke-linecap="butt" opacity="0.85" transform="translate(-0.9,-0.9)" filter="url(#b1)"/>
<path d="M144.9,573 L144.9,710.1 L531.6,710.1 L531.6,573.6" fill="none" stroke="#256a50" stroke-width="8.8" stroke-linejoin="miter" stroke-linecap="butt"/>
<path d="M144.9,573 L144.9,710.1 L531.6,710.1 L531.6,573.6" fill="none" stroke="#3c9474" stroke-width="7.000000000000001" stroke-linejoin="miter" stroke-linecap="butt"/>
<path d="M144.9,573 L144.9,710.1 L531.6,710.1 L531.6,573.6" fill="none" stroke="#5fb394" stroke-width="2.8" stroke-linejoin="miter" stroke-linecap="butt" opacity="0.85" transform="translate(-0.9,-0.9)" filter="url(#b1)"/>
<path d="M226.4,588.5 L226.4,726.3 L614,726.3 L614,588.6" fill="none" stroke="#256a50" stroke-width="8.8" stroke-linejoin="miter" stroke-linecap="butt"/>
<path d="M226.4,588.5 L226.4,726.3 L614,726.3 L614,588.6" fill="none" stroke="#3c9474" stroke-width="7.000000000000001" stroke-linejoin="miter" stroke-linecap="butt"/>
<path d="M226.4,588.5 L226.4,726.3 L614,726.3 L614,588.6" fill="none" stroke="#5fb394" stroke-width="2.8" stroke-linejoin="miter" stroke-linecap="butt" opacity="0.85" transform="translate(-0.9,-0.9)" filter="url(#b1)"/>
<path d="M303.5,590 L303.5,744 L690.3,744 L690.3,588.6" fill="none" stroke="#256a50" stroke-width="8.8" stroke-linejoin="miter" stroke-linecap="butt"/>
<path d="M303.5,590 L303.5,744 L690.3,744 L690.3,588.6" fill="none" stroke="#3c9474" stroke-width="7.000000000000001" stroke-linejoin="miter" stroke-linecap="butt"/>
<path d="M303.5,590 L303.5,744 L690.3,744 L690.3,588.6" fill="none" stroke="#5fb394" stroke-width="2.8" stroke-linejoin="miter" stroke-linecap="butt" opacity="0.85" transform="translate(-0.9,-0.9)" filter="url(#b1)"/>
<path d="M514.2,199 C514.2,194 511.70000000000005,190 508.20000000000005,184 C503.70000000000005,176.5 498.20000000000005,170 498.20000000000005,157 A28,28 0 1 1 554.2,157 C554.2,170 548.7,176.5 544.2,184 C540.7,190 538.2,194 538.2,199 Z" fill="url(#glassG)" stroke="#7a7a7a" stroke-width="1.3"/>
<path d="M515.2,199 C515.2,191 506.20000000000005,179 502.20000000000005,169" fill="none" stroke="#c9c9c9" stroke-width="2.2" opacity="0.7"/>
<path d="M537.2,199 C537.2,191 546.2,179 550.2,169" fill="none" stroke="#c9c9c9" stroke-width="2.2" opacity="0.7"/>
<g fill="none" stroke="#6a6a6a" stroke-width="0.8">
<path d="M514.2,156.5 Q526.2,154 538.2,156.5"/>
<path d="M514.2,156.5 L523.2,181"/><path d="M538.2,156.5 L529.2,181"/>
<path d="M520.7,156 L524.2,167" stroke="#b4b4b4"/><path d="M531.7,156 L528.2,167" stroke="#b4b4b4"/>
</g>
<rect x="523.4000000000001" y="166.5" width="5.6" height="2" fill="#2a2a2a"/>
<rect x="524.4000000000001" y="168.5" width="3.6" height="11" fill="#c2c2c2" stroke="#777" stroke-width="0.5"/>
<rect x="522.2" y="179.5" width="8" height="7.5" rx="1" fill="#dcdcdc" stroke="#1e1e1e" stroke-width="1.1"/>
<circle cx="526.2" cy="184" r="1.6" fill="#fff" stroke="#333" stroke-width="0.7"/>
<rect x="522.8000000000001" y="187" width="6.8" height="12" fill="#cccccc" stroke="#8a8a8a" stroke-width="0.5"/>
<path d="M513.6,199 L538.8000000000001,199 L538.6,213.5 Q537.2,219.5 532.2,221.5 L520.2,221.5 Q515.2,219.5 513.8000000000001,213.5 Z" fill="url(#baseG)"/>
<path d="M513.4000000000001,201.8 Q526.2,204.0 539.0,201.20000000000002" fill="none" stroke="#2a2c2e" stroke-width="1.05" opacity="0.72"/>
<path d="M513.4000000000001,205.5 Q526.2,207.7 539.0,204.9" fill="none" stroke="#2a2c2e" stroke-width="1.05" opacity="0.72"/>
<path d="M513.4000000000001,209.20000000000002 Q526.2,211.4 539.0,208.60000000000002" fill="none" stroke="#2a2c2e" stroke-width="1.05" opacity="0.72"/>
<path d="M513.4000000000001,212.9 Q526.2,215.1 539.0,212.3" fill="none" stroke="#2a2c2e" stroke-width="1.05" opacity="0.72"/>
<path d="M513.4000000000001,216.60000000000002 Q526.2,218.8 539.0,216.00000000000003" fill="none" stroke="#2a2c2e" stroke-width="1.05" opacity="0.72"/>
<path d="M519.7,220.5 L532.7,220.5 L530.8000000000001,224.5 L521.6,224.5 Z" fill="#161616"/>
<path d="M594,197 C594,192 591.5,188 588,182 C583.5,174.5 578,168 578,155 A28,28 0 1 1 634,155 C634,168 628.5,174.5 624,182 C620.5,188 618,192 618,197 Z" fill="url(#glassG)" stroke="#7a7a7a" stroke-width="1.3"/>
<path d="M595,197 C595,189 586,177 582,167" fill="none" stroke="#c9c9c9" stroke-width="2.2" opacity="0.7"/>
<path d="M617,197 C617,189 626,177 630,167" fill="none" stroke="#c9c9c9" stroke-width="2.2" opacity="0.7"/>
<g fill="none" stroke="#6a6a6a" stroke-width="0.8">
<path d="M594,154.5 Q606,152 618,154.5"/>
<path d="M594,154.5 L603,179"/><path d="M618,154.5 L609,179"/>
<path d="M600.5,154 L604,165" stroke="#b4b4b4"/><path d="M611.5,154 L608,165" stroke="#b4b4b4"/>
</g>
<rect x="603.2" y="164.5" width="5.6" height="2" fill="#2a2a2a"/>
<rect x="604.2" y="166.5" width="3.6" height="11" fill="#c2c2c2" stroke="#777" stroke-width="0.5"/>
<rect x="602" y="177.5" width="8" height="7.5" rx="1" fill="#dcdcdc" stroke="#1e1e1e" stroke-width="1.1"/>
<circle cx="606" cy="182" r="1.6" fill="#fff" stroke="#333" stroke-width="0.7"/>
<rect x="602.6" y="185" width="6.8" height="12" fill="#cccccc" stroke="#8a8a8a" stroke-width="0.5"/>
<path d="M593.4,197 L618.6,197 L618.4,211.5 Q617,217.5 612,219.5 L600,219.5 Q595,217.5 593.6,211.5 Z" fill="url(#baseG)"/>
<path d="M593.2,199.8 Q606,202.0 618.8,199.20000000000002" fill="none" stroke="#2a2c2e" stroke-width="1.05" opacity="0.72"/>
<path d="M593.2,203.5 Q606,205.7 618.8,202.9" fill="none" stroke="#2a2c2e" stroke-width="1.05" opacity="0.72"/>
<path d="M593.2,207.20000000000002 Q606,209.4 618.8,206.60000000000002" fill="none" stroke="#2a2c2e" stroke-width="1.05" opacity="0.72"/>
<path d="M593.2,210.9 Q606,213.1 618.8,210.3" fill="none" stroke="#2a2c2e" stroke-width="1.05" opacity="0.72"/>
<path d="M593.2,214.60000000000002 Q606,216.8 618.8,214.00000000000003" fill="none" stroke="#2a2c2e" stroke-width="1.05" opacity="0.72"/>
<path d="M599.5,218.5 L612.5,218.5 L610.6,222.5 L601.4,222.5 Z" fill="#161616"/>
<path d="M677.3,196 C677.3,191 674.8,187 671.3,181 C666.8,173.5 661.3,167 661.3,154 A28,28 0 1 1 717.3,154 C717.3,167 711.8,173.5 707.3,181 C703.8,187 701.3,191 701.3,196 Z" fill="url(#glassG)" stroke="#7a7a7a" stroke-width="1.3"/>
<path d="M678.3,196 C678.3,188 669.3,176 665.3,166" fill="none" stroke="#c9c9c9" stroke-width="2.2" opacity="0.7"/>
<path d="M700.3,196 C700.3,188 709.3,176 713.3,166" fill="none" stroke="#c9c9c9" stroke-width="2.2" opacity="0.7"/>
<g fill="none" stroke="#6a6a6a" stroke-width="0.8">
<path d="M677.3,153.5 Q689.3,151 701.3,153.5"/>
<path d="M677.3,153.5 L686.3,178"/><path d="M701.3,153.5 L692.3,178"/>
<path d="M683.8,153 L687.3,164" stroke="#b4b4b4"/><path d="M694.8,153 L691.3,164" stroke="#b4b4b4"/>
</g>
<rect x="686.5" y="163.5" width="5.6" height="2" fill="#2a2a2a"/>
<rect x="687.5" y="165.5" width="3.6" height="11" fill="#c2c2c2" stroke="#777" stroke-width="0.5"/>
<rect x="685.3" y="176.5" width="8" height="7.5" rx="1" fill="#dcdcdc" stroke="#1e1e1e" stroke-width="1.1"/>
<circle cx="689.3" cy="181" r="1.6" fill="#fff" stroke="#333" stroke-width="0.7"/>
<rect x="685.9" y="184" width="6.8" height="12" fill="#cccccc" stroke="#8a8a8a" stroke-width="0.5"/>
<path d="M676.6999999999999,196 L701.9,196 L701.6999999999999,210.5 Q700.3,216.5 695.3,218.5 L683.3,218.5 Q678.3,216.5 676.9,210.5 Z" fill="url(#baseG)"/>
<path d="M676.5,198.8 Q689.3,201.0 702.0999999999999,198.20000000000002" fill="none" stroke="#2a2c2e" stroke-width="1.05" opacity="0.72"/>
<path d="M676.5,202.5 Q689.3,204.7 702.0999999999999,201.9" fill="none" stroke="#2a2c2e" stroke-width="1.05" opacity="0.72"/>
<path d="M676.5,206.20000000000002 Q689.3,208.4 702.0999999999999,205.60000000000002" fill="none" stroke="#2a2c2e" stroke-width="1.05" opacity="0.72"/>
<path d="M676.5,209.9 Q689.3,212.1 702.0999999999999,209.3" fill="none" stroke="#2a2c2e" stroke-width="1.05" opacity="0.72"/>
<path d="M676.5,213.60000000000002 Q689.3,215.8 702.0999999999999,213.00000000000003" fill="none" stroke="#2a2c2e" stroke-width="1.05" opacity="0.72"/>
<path d="M682.8,217.5 L695.8,217.5 L693.9,221.5 L684.6999999999999,221.5 Z" fill="#161616"/>
<g opacity="0.145" fill="#000000" font-family="'Liberation Serif', serif">
<text transform="translate(397.8,474.3) rotate(-25.5)" font-size="130">w</text>
<text transform="translate(491.9,427.3) rotate(-34.5)" font-size="146">all</text>
<text transform="translate(349.5,502) rotate(-25.5)" font-size="130">s</text>
</g>
<g opacity="0.125" fill="none" stroke="#000000" stroke-linecap="butt">
<path d="M296,371 C284,388 268,386 248,400 C205,432 178,498 196,548 C212,590 258,610 300,603" stroke-width="21"/>
<path d="M300,603 C335,598 366,580 380,548 C386,535 390,520 391,506" stroke-width="11"/>
<path d="M328,392 C296,412 280,450 284,486 C288,520 302,545 322,556" stroke-width="12"/>
</g>
</svg>
</body></html>
